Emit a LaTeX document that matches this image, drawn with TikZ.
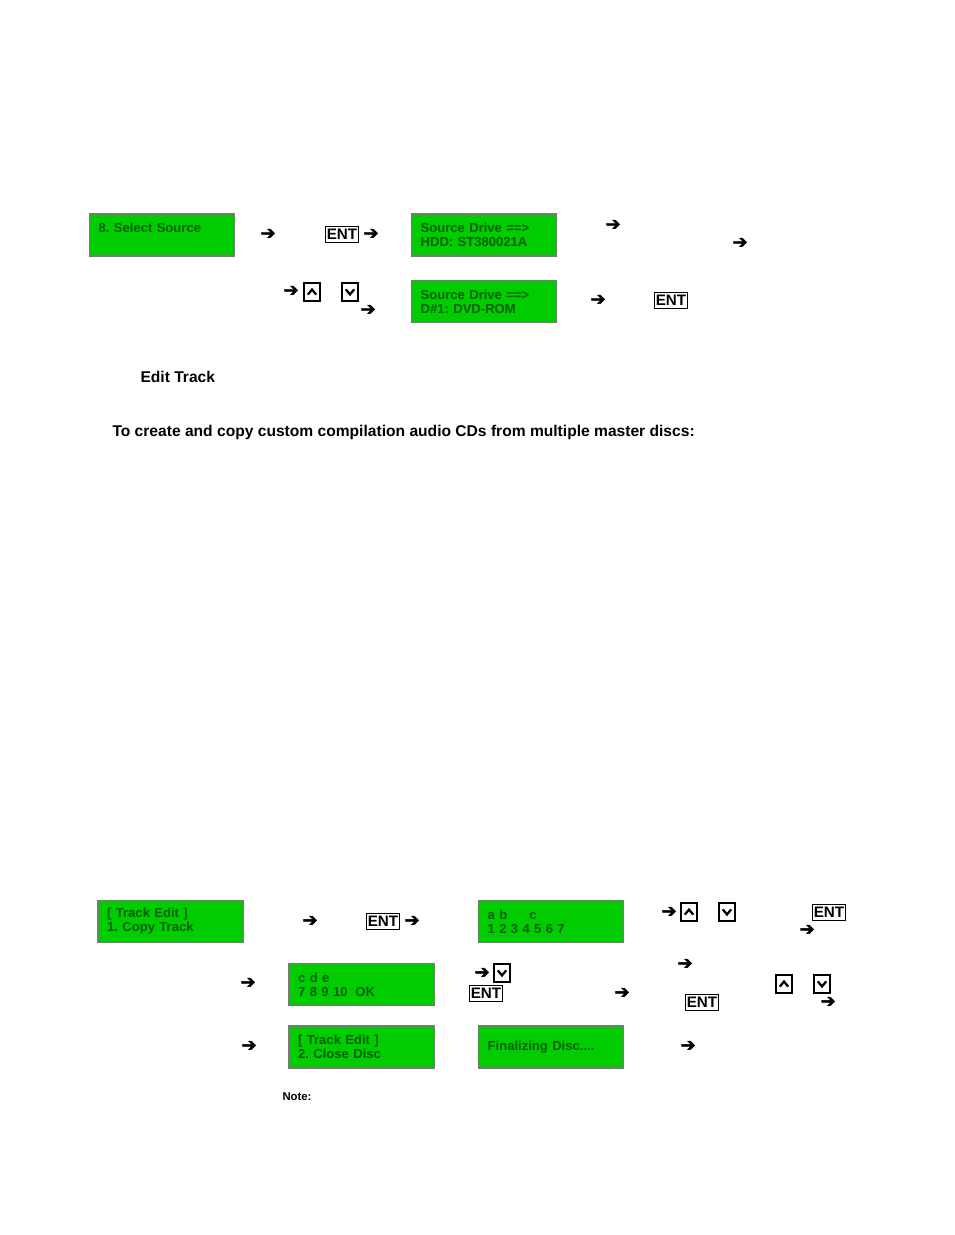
\documentclass[tikz,border=0pt]{standalone}
\usepackage{fontspec}
\setmainfont{Liberation Sans}
\newfontfamily\arrfont[FakeBold=2.5]{DejaVu Sans}
\frenchspacing
\definecolor{lcdgreen}{RGB}{0,204,0}
\definecolor{lcdtext}{RGB}{0,95,0}
\definecolor{lcdedge}{RGB}{120,120,120}
\tikzset{every picture/.style={line width=0.75pt}}
\tikzset{
  lcd/.style={draw=lcdedge, line width=1pt, fill=lcdgreen, minimum width=108pt, minimum height=31.5pt,
    text width=95pt, inner xsep=7pt, align=left, text=lcdtext,
    font=\bfseries\fontsize{9.8}{10.6}\selectfont},
  arr/.style={inner sep=0pt, font=\arrfont\fontsize{13.5}{13.5}\selectfont},
  entkey/.style={draw, line width=0.9pt, inner xsep=0.8pt, inner ysep=2.2pt, font=\bfseries\fontsize{11.4}{12}\selectfont},
  dirkey/.style={draw, line width=0.9pt, minimum width=12pt, minimum height=13.5pt, inner sep=0pt},
  chev/.style={line width=1.7pt, line join=miter},
  heading/.style={anchor=west, inner sep=0pt, font=\bfseries\fontsize{11.7}{14}\selectfont}
}
\newcommand{\upchev}[1]{\draw[chev] ([shift={(-4.2,2.6)}]#1.center) -- ([shift={(0,-2.4)}]#1.center) -- ([shift={(4.2,2.6)}]#1.center);}
\newcommand{\dnchev}[1]{\draw[chev] ([shift={(-4.2,-2.6)}]#1.center) -- ([shift={(0,2.4)}]#1.center) -- ([shift={(4.2,-2.6)}]#1.center);}

\begin{document}
\begin{tikzpicture}[x=0.75pt,y=0.75pt,yscale=-1,xscale=1]
\path[use as bounding box] (0,0) rectangle (954,1235);

% Select source
\node[lcd] (selsrc) at (162,235) {8. Select Source\\\mbox{}};
\node[lcd] (hdd) at (484,235) {Source Drive ==>\\HDD: ST380021A};
\node[lcd] (dvd) at (484,301.5) {Source Drive ==>\\D\#1: DVD-ROM};

\node[arr] (a1) at (268,234) {➔};
\node[entkey] (ent1) at (342,234.5) {ENT};
\node[arr] (a2) at (371,234) {➔};
\node[arr] (a3) at (613,225) {➔};
\node[arr] (a4) at (740,243) {➔};

\node[arr] (a5) at (291,291) {➔};
\node[dirkey] (up1) at (312,292) {};
\upchev{up1}
\node[dirkey] (dn1) at (350,292) {};
\dnchev{dn1}
\node[arr] (a6) at (368,310) {➔};
\node[arr] (a7) at (598,300) {➔};
\node[entkey] (ent2) at (671,300.5) {ENT};

% Headings
\node[heading] (edittrk) at (140,377) {Edit Track};
\node[heading] (howto) at (112,432) {To create and copy custom compilation audio CDs from multiple master discs:};

% Track edit, row 1
\node[lcd] (copytrk) at (170.5,921.5) {[ Track Edit ]\\1. Copy Track};
\node[arr] (b1) at (310,921) {➔};
\node[entkey] (ent3) at (383,921.5) {ENT};
\node[arr] (b2) at (412,921) {➔};
\node[lcd] (trklist) at (551,921.5) {a b\hspace{1.7em}c\\1 2 3 4 5 6 7};
\node[arr] (b3) at (669,912) {➔};
\node[dirkey] (up2) at (689,912) {};
\upchev{up2}
\node[dirkey] (dn2) at (727,912) {};
\dnchev{dn2}
\node[entkey] (ent4) at (829,912.5) {ENT};
\node[arr] (b4) at (807,930) {➔};

% Track edit, row 2
\node[arr] (c1) at (248,983) {➔};
\node[lcd] (trkpick) at (361.5,984.5) {c d e\\7 8 9 10\hspace{0.6em}OK};
\node[arr] (c2) at (482,973) {➔};
\node[dirkey] (dn3) at (502,973) {};
\dnchev{dn3}
\node[entkey] (ent5) at (486,993.5) {ENT};
\node[arr] (c3) at (622,993) {➔};
\node[arr] (c4) at (685,964) {➔};
\node[dirkey] (up3) at (784,984) {};
\upchev{up3}
\node[dirkey] (dn4) at (822,984) {};
\dnchev{dn4}
\node[entkey] (ent6) at (702,1002.5) {ENT};
\node[arr] (c5) at (828,1002) {➔};

% Track edit, row 3
\node[arr] (d1) at (249,1046) {➔};
\node[lcd] (closedisc) at (361.5,1047) {[ Track Edit ]\\2. Close Disc};
\node[lcd] (finalize) at (551,1047) {Finalizing Disc....};
\node[arr] (d2) at (688,1046) {➔};

\node[heading, font=\bfseries\fontsize{8.5}{10}\selectfont] (note) at (282,1097) {Note:};

\end{tikzpicture}
\end{document}
